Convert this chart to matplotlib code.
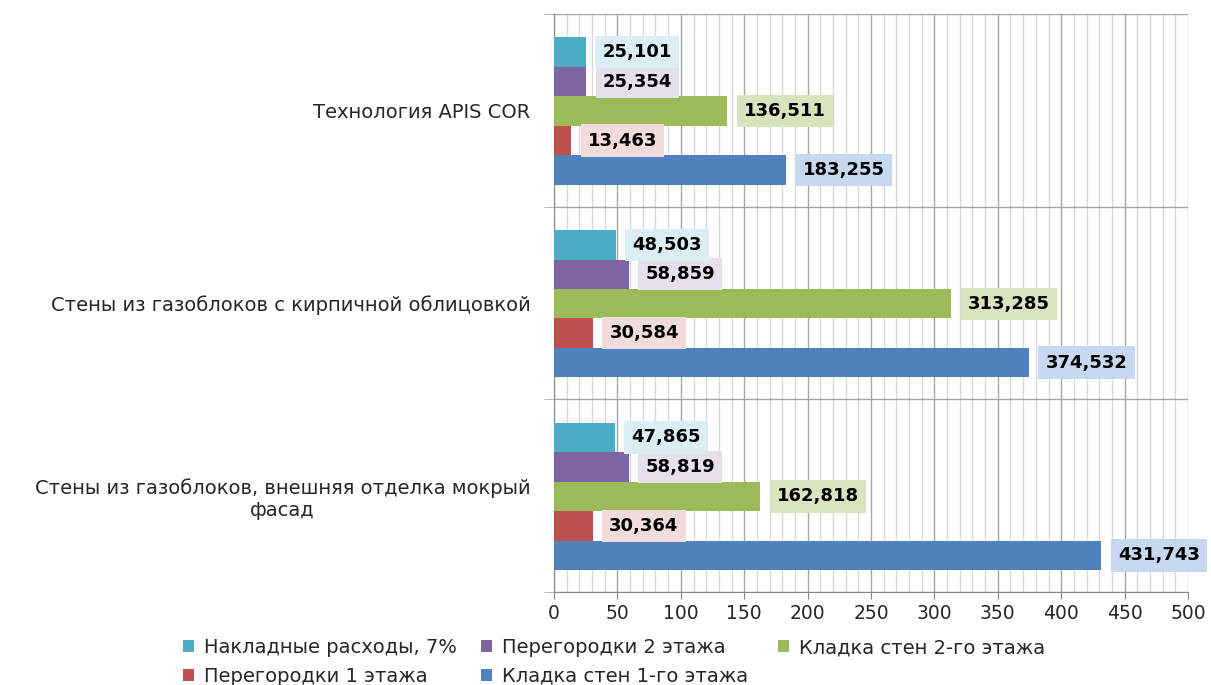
import matplotlib
matplotlib.use("Agg")
import matplotlib.pyplot as plt
import numpy as np
from matplotlib.ticker import MultipleLocator, FixedLocator

# categories, bottom to top as drawn
categories = [
    "Стены из газоблоков, внешняя отделка мокрый\nфасад",
    "Стены из газоблоков с кирпичной облицовкой",
    "Технология APIS COR",
]

# series, bottom to top inside each group
series_names = [
    "Кладка стен 1-го этажа",
    "Перегородки 1 этажа",
    "Кладка стен 2-го этажа",
    "Перегородки 2 этажа",
    "Накладные расходы, 7%",
]
kladka_1 = [431.743, 374.532, 183.255]
peregorodki_1 = [30.364, 30.584, 13.463]
kladka_2 = [162.818, 313.285, 136.511]
peregorodki_2 = [58.819, 58.859, 25.354]
nakladnye = [47.865, 48.503, 25.101]
series_values = [kladka_1, peregorodki_1, kladka_2, peregorodki_2, nakladnye]

colors = ["#4F81BD", "#C0504D", "#9BBB59", "#8064A2", "#4BACC6"]
box_colors = ["#C6D9F1", "#F2DCDB", "#D7E4BD", "#E5E0EC", "#DAEEF3"]

text_color = "#262626"
fig = plt.figure(figsize=(12.11, 6.85), dpi=100)
ax = fig.add_axes([0.4575, 0.1358, 0.5235, 0.8438])

y = np.arange(len(categories))
h = 0.153
bars = []
for i, (name, vals) in enumerate(zip(series_names, series_values)):
    pos = y + (i - 2) * h - 0.004
    b = ax.barh(pos, vals, height=h, color=colors[i], label=name, zorder=3)
    bars.append(b)
    for yy, v in zip(pos, vals):
        ax.annotate(f"{v:.3f}".replace(".", ","), xy=(v, yy), xytext=(12, 0),
                    textcoords="offset points", ha="left", va="center",
                    fontsize=13, fontweight="bold", color="black", zorder=4,
                    bbox=dict(boxstyle="square,pad=0.4", fc=box_colors[i], ec="none"))

ax.set_xlim(0, 500)
ax.set_ylim(-0.5, 2.5)
ax.xaxis.set_major_locator(MultipleLocator(50))
ax.xaxis.set_minor_locator(MultipleLocator(10))
ax.grid(True, axis="x", which="major", color="#A6A6A6", lw=1, zorder=0)
ax.grid(True, axis="x", which="minor", color="#D9D9D9", lw=1, zorder=0)

ax.set_yticks(y)
ax.set_yticklabels(categories, fontsize=14, color=text_color, ma="center")
ax.yaxis.set_minor_locator(FixedLocator([-0.5, 0.5, 1.5, 2.5]))
ax.grid(True, axis="y", which="minor", color="#A6A6A6", lw=1, zorder=1)
ax.tick_params(axis="y", which="major", length=0, pad=17)
ax.tick_params(axis="y", which="minor", length=7, color="#A6A6A6")
ax.tick_params(axis="x", which="major", length=5, color="#868686",
               labelsize=13.5, labelcolor=text_color, pad=4)
ax.tick_params(axis="x", which="minor", length=0)

for s in ["top", "right"]:
    ax.spines[s].set_visible(False)
for s in ["left", "bottom"]:
    ax.spines[s].set_color("#868686")

# legend in three equal-width columns:
# row1 = nakladnye, peregorodki_2, kladka_2 ; row2 = peregorodki_1, kladka_1
legend_cols = [[4, 1], [3, 0], [2]]
col_x = [183, 481, 778]
for cx, col in zip(col_x, legend_cols):
    fig.legend([bars[k] for k in col], [series_names[k] for k in col],
               loc="upper left", bbox_to_anchor=(cx / 1211, 1 - 638 / 685),
               frameon=False, fontsize=14, handlelength=0.55, handleheight=0.55,
               handletextpad=0.55, labelspacing=0.5, labelcolor=text_color,
               borderaxespad=0, borderpad=0)

fig.savefig("out.png", dpi=100)
